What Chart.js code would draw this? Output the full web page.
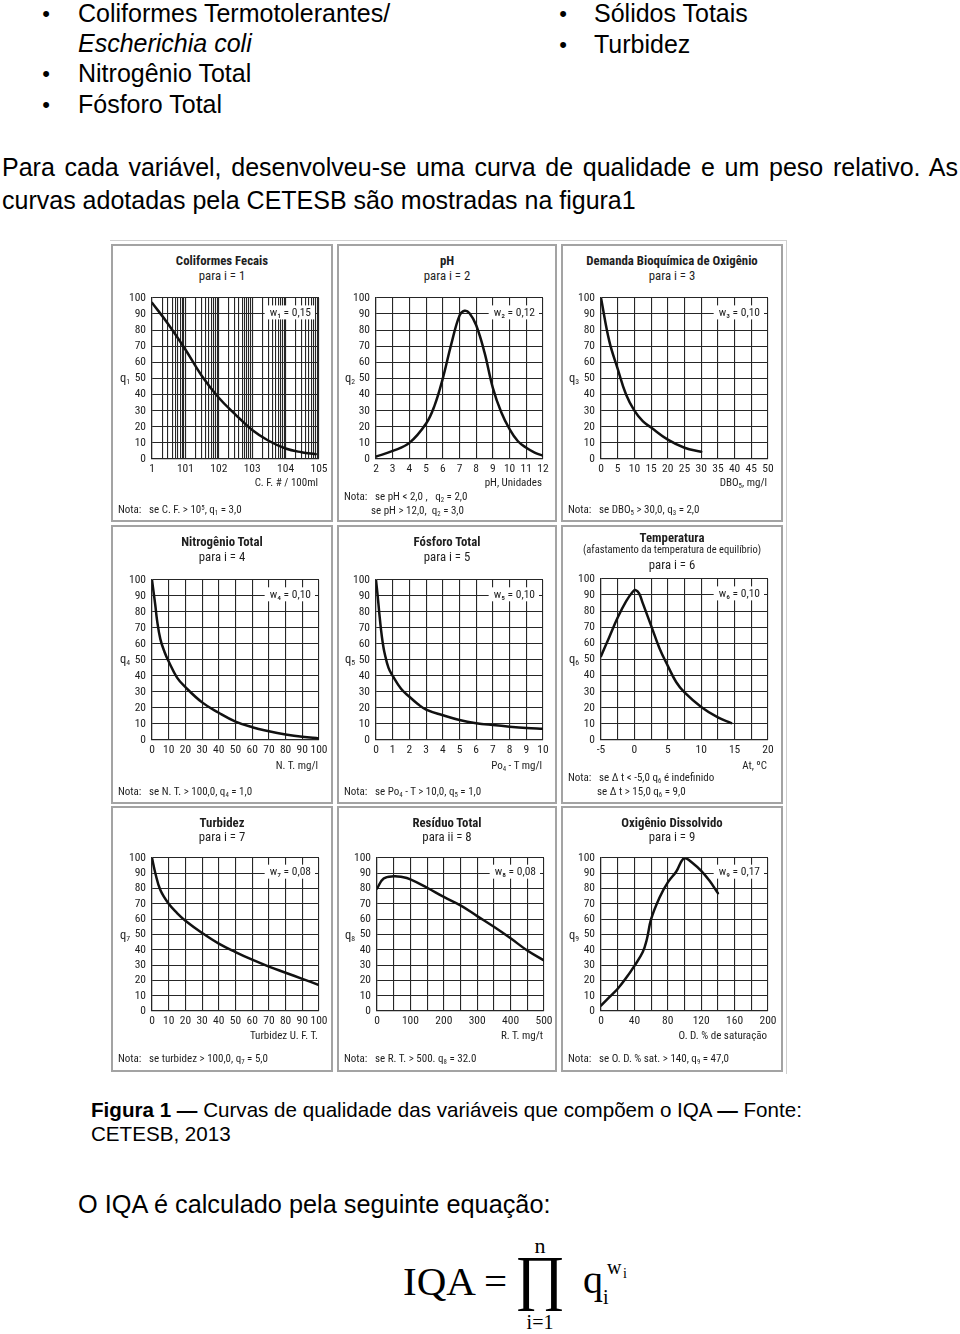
<!DOCTYPE html>
<html><head><meta charset="utf-8">
<script src="https://cdn.jsdelivr.net/npm/chart.js@4.4.0/dist/chart.umd.min.js"></script>
<style>
html,body{margin:0;padding:0;background:#fff;}
#page{position:relative;width:960px;height:1334px;overflow:hidden;font-family:'Liberation Sans',Arial,sans-serif;color:#000;}
.t{position:absolute;white-space:nowrap;}
.panel{position:absolute;box-sizing:border-box;border:2px solid #a3a3a3;background:#fff;}
.pf{font-family:'Liberation Sans Narrow','Roboto Condensed','Arial Narrow','Noto Sans',sans-serif;color:#1e1e1e;}
.t sub{font-size:0.62em;vertical-align:-0.25em;line-height:0;}
.t sup{font-size:0.62em;vertical-align:0.45em;line-height:0;}
.eq{font-family:'Liberation Serif','Times New Roman',serif;}
.just{text-align:justify;text-align-last:justify;white-space:normal;}
</style></head><body><div id="page"></div>
<script>
// ---------- data ----------
const coliformX = [1, 3, 10, 30, 100, 300, 1000, 3000, 10000, 30000, 80000];
const coliformQ = [97, 84, 68, 52, 38, 28, 18, 11.5, 6.5, 4.2, 3];
const coliformTickValues = [1, 10, 100, 1000, 10000, 100000];
const coliformTickLabels = ['1', '101', '102', '103', '104', '105'];

const phX = [2, 3, 4, 5, 5.5, 6, 6.5, 7, 7.3, 7.6, 8, 8.5, 9, 9.5, 10, 10.5, 11, 11.5, 12];
const phQ = [1.5, 5, 10, 22, 33, 50, 71, 89, 92, 90.5, 83, 66, 44, 29, 18.5, 11, 7, 4, 2];
const phTickLabels = ['2','3','4','5','6','7','8','9','10','11','12'];

const dboX = [0, 2.5, 5, 7.5, 10, 12.5, 15, 20, 25, 30];
const dboQ = [100, 73, 56, 40, 30, 23.5, 19.5, 12, 7, 4.5];
const dboTickLabels = ['0','5','10','15','20','25','30','35','40','45','50'];

const ntX = [0, 1, 2, 3, 5, 7.5, 10, 15, 20, 30, 40, 50, 60, 70, 80, 90, 100];
const ntQ = [100, 92, 84, 75, 63, 55, 49, 39, 33, 23.5, 17, 11.5, 8, 5.5, 3.5, 2, 1];
const ntTickLabels = ['0','10','20','30','40','50','60','70','80','90','100'];

const ptX = [0, 0.1, 0.2, 0.3, 0.4, 0.5, 0.75, 1, 1.5, 2, 2.5, 3, 4, 5, 6, 7, 8, 9, 10];
const ptQ = [100, 90, 79, 69, 61, 55, 45, 40, 32, 27, 22.5, 19, 15.5, 12.5, 10.5, 9.3, 8.3, 7.5, 7];
const ptTickLabels = ['0','1','2','3','4','5','6','7','8','9','10'];

const tempX = [-5, -3.75, -2.5, -1.25, -0.25, 0.2, 0.7, 1.25, 2.5, 3.75, 5, 6.25, 7.5, 10, 12.5, 14.5];
const tempQ = [52, 64, 76, 86, 92, 93, 91, 85, 71, 57, 46, 36, 29.5, 20.5, 14, 10.5];
const tempTickLabels = ['-5','0','5','10','15','20'];

const turbX = [0, 2, 5, 10, 15, 20, 30, 40, 50, 60, 70, 80, 90, 100];
const turbQ = [100, 90, 79, 70, 64, 59, 51, 44, 38.5, 33.5, 29, 25, 21, 17];
const turbTickLabels = ['0','10','20','30','40','50','60','70','80','90','100'];

const rtX = [0, 20, 50, 75, 100, 150, 200, 250, 300, 350, 400, 450, 500];
const rtQ = [80, 86.5, 88, 87.5, 86, 80.5, 74.5, 69, 62, 55, 47.5, 39.5, 33];
const rtTickLabels = ['0','100','200','300','400','500'];

const odX = [0, 10, 20, 30, 40, 50, 55, 60, 70, 80, 90, 100, 110, 120, 130, 140];
const odQ = [3.5, 9, 14.5, 21.5, 29.5, 38.5, 47, 60, 74, 84, 91, 100, 96.5, 91.5, 85, 77];
const odTickLabels = ['0','40','80','120','160','200'];

const qTickLabels = ['0','10','20','30','40','50','60','70','80','90','100'];

// ---------- helpers ----------
const FONT_P = "'Liberation Sans Narrow','Roboto Condensed','Arial Narrow','Noto Sans',sans-serif";
const GRID = '#262626';
const page = document.getElementById('page');

function txt(html, x, y, o = {}) {
  const d = document.createElement('div');
  d.className = 't' + (o.cls ? ' ' + o.cls : '');
  d.innerHTML = html;
  const size = o.size || 25;
  const lh = Math.round(size * 1.2);
  d.style.fontSize = size + 'px';
  d.style.lineHeight = lh + 'px';
  d.style.top = (y - lh / 2) + 'px';
  d.style.left = x + 'px';
  if (o.width) d.style.width = o.width + 'px';
  if (o.align === 'center') d.style.transform = 'translateX(-50%)';
  if (o.align === 'right') d.style.transform = 'translateX(-100%)';
  if (o.bold) d.style.fontWeight = 'bold';
  if (o.italic) d.style.fontStyle = 'italic';
  page.appendChild(d);
  return d;
}

const wLabelPlugin = {
  id: 'wLabel',
  beforeDatasetsDraw(chart, args, opts) {
    if (!opts || !opts.text) return;
    const { ctx, chartArea: a } = chart;
    const y = chart.scales.y.getPixelForValue(91);
    ctx.save();
    ctx.font = '11.5px ' + FONT_P;
    const tw = ctx.measureText(opts.text).width;
    const right = a.right - 8;
    ctx.fillStyle = '#fff';
    ctx.fillRect(right - tw - 5, y - 7, tw + 9, 14);
    ctx.fillStyle = '#1e1e1e';
    ctx.textAlign = 'right';
    ctx.textBaseline = 'middle';
    ctx.fillText(opts.text, right, y + 0.5);
    ctx.restore();
  }
};

function labelCb(list) {
  return (v) => list.includes(String(v)) ? String(v) : '';
}

function buildChart(p) {
  const W = p.plot.w + 52, H = p.plot.h + 8 + 24;
  const cv = document.createElement('canvas');
  cv.width = W; cv.height = H;
  cv.style.cssText = `position:absolute;left:${p.plot.x - 40}px;top:${p.plot.y - 8}px;width:${W}px;height:${H}px;`;
  page.appendChild(cv);
  const pts = p.xs.map((x, i) => ({ x: x, y: p.qs[i] }));
  const tickFont = { family: FONT_P, size: 11.5 };
  const xs = {
    type: p.xType || 'linear',
    position: 'bottom',
    min: p.xMin, max: p.xMax,
    afterFit(s) { s.height = 24; },
    grid: { color: GRID, lineWidth: 1.1, drawTicks: false },
    border: { color: GRID, width: 1.2 },
    ticks: { color: '#1e1e1e', font: tickFont, padding: 3, autoSkip: false, maxRotation: 0, minRotation: 0,
             maxTicksLimit: 200, callback: p.xCb }
  };
  if (p.xStep) xs.ticks.stepSize = p.xStep;
  if (p.xTicks) xs.afterBuildTicks = (s) => { s.ticks = p.xTicks.map(v => ({ value: v })); };
  new Chart(cv, {
    type: 'line',
    data: { datasets: [{ data: pts, borderColor: '#111', borderWidth: 2.5, pointRadius: 0,
                         tension: 0.4, fill: false, borderCapStyle: 'round', borderJoinStyle: 'round' }] },
    options: {
      responsive: false, animation: false, devicePixelRatio: 1,
      layout: { padding: { top: 8, right: 12, left: 0, bottom: 0 } },
      plugins: { legend: { display: false }, tooltip: { enabled: false }, title: { display: false },
                 wLabel: { text: p.w } },
      scales: {
        x: xs,
        y: {
          type: 'linear', min: 0, max: 100,
          afterFit(s) { s.width = 40; },
          grid: { color: GRID, lineWidth: 1.1, drawTicks: false },
          border: { color: GRID, width: 1.2 },
          ticks: { stepSize: 10, color: '#1e1e1e', font: tickFont, padding: 6, autoSkip: false,
                   callback: labelCb(qTickLabels) }
        }
      }
    },
    plugins: [wLabelPlugin]
  });
}

// ---------- document text ----------
function bullet(x, y) { txt('&#8226;', x, y, { size: 22, align: 'center' }); }
bullet(46, 14); txt('Coliformes Termotolerantes/', 78, 13);
txt('Escherichia coli', 78, 43, { italic: true });
bullet(46, 74); txt('Nitrogênio Total', 78, 73);
bullet(46, 105); txt('Fósforo Total', 78, 104);
bullet(563, 14); txt('Sólidos Totais', 594, 13);
bullet(563, 45); txt('Turbidez', 594, 44);
txt('Para cada variável, desenvolveu-se uma curva de qualidade e um peso relativo. As', 2, 167, { width: 956, cls: 'just' });
txt('curvas adotadas pela CETESB são mostradas na figura1', 2, 200);

// outer figure frame
const fr = document.createElement('div');
fr.style.cssText = 'position:absolute;left:110px;top:240px;width:676px;height:833px;border-top:1px solid #cfcfcf;border-right:1px solid #cfcfcf;';
page.appendChild(fr);

// ---------- panels ----------
const logGrid = [];
for (let k = 0; k < 5; k++) for (let n = 1; n < 10; n++) logGrid.push(n * Math.pow(10, k));
logGrid.push(100000);

const panels = [
  { box: { l: 111, t: 244, w: 222, h: 278 }, plot: { x: 152, y: 293, w: 167, h: 166 },
    titles: [['Coliformes Fecais', 260, true], ['para i = 1', 275]],
    xTitle: ['C. F. # / 100ml', 482],
    notes: [['Nota:&nbsp;&nbsp; se C. F. &gt; 10<sup>5</sup>, q<sub>1</sub> = 3,0', 118, 509]],
    q: ['q<sub>1</sub>', 125, 377], w: 'w₁ = 0,15',
    xs: coliformX, qs: coliformQ, xType: 'logarithmic', xMin: 1, xMax: 100000, xTicks: logGrid,
    xCb: (v) => { const i = coliformTickValues.indexOf(v); return i >= 0 ? coliformTickLabels[i] : ''; } },
  { box: { l: 337, t: 244, w: 220, h: 278 }, plot: { x: 376, y: 293, w: 167, h: 166 },
    titles: [['pH', 260, true], ['para i = 2', 275]],
    xTitle: ['pH, Unidades', 482],
    notes: [['Nota:&nbsp;&nbsp; se pH &lt; 2,0 ,&nbsp;&nbsp; q<sub>2</sub> = 2,0', 344, 496],
            ['se pH &gt; 12,0,&nbsp; q<sub>2</sub> = 3,0', 371, 510]],
    q: ['q<sub>2</sub>', 350, 377], w: 'w₂ = 0,12',
    xs: phX, qs: phQ, xMin: 2, xMax: 12, xStep: 1, xCb: labelCb(phTickLabels) },
  { box: { l: 561, t: 244, w: 222, h: 278 }, plot: { x: 601, y: 293, w: 167, h: 166 },
    titles: [['Demanda Bioquímica de Oxigênio', 260, true], ['para i = 3', 275]],
    xTitle: ['DBO<sub>5</sub>, mg/l', 482],
    notes: [['Nota:&nbsp;&nbsp; se DBO<sub>5</sub> &gt; 30,0, q<sub>3</sub> = 2,0', 568, 509]],
    q: ['q<sub>3</sub>', 574, 377], w: 'w₃ = 0,10',
    xs: dboX, qs: dboQ, xMin: 0, xMax: 50, xStep: 5, xCb: labelCb(dboTickLabels) },
  { box: { l: 111, t: 525, w: 222, h: 279 }, plot: { x: 152, y: 575, w: 167, h: 165 },
    titles: [['Nitrogênio Total', 541, true], ['para i = 4', 556]],
    xTitle: ['N. T. mg/l', 765],
    notes: [['Nota:&nbsp;&nbsp; se N. T. &gt; 100,0, q<sub>4</sub> = 1,0', 118, 791]],
    q: ['q<sub>4</sub>', 125, 658], w: 'w₄ = 0,10',
    xs: ntX, qs: ntQ, xMin: 0, xMax: 100, xStep: 10, xCb: labelCb(ntTickLabels) },
  { box: { l: 337, t: 525, w: 220, h: 279 }, plot: { x: 376, y: 575, w: 167, h: 165 },
    titles: [['Fósforo Total', 541, true], ['para i = 5', 556]],
    xTitle: ['Po<sub>4</sub> - T mg/l', 765],
    notes: [['Nota:&nbsp;&nbsp; se Po<sub>4</sub> - T &gt; 10,0, q<sub>5</sub> = 1,0', 344, 791]],
    q: ['q<sub>5</sub>', 350, 658], w: 'w₅ = 0,10',
    xs: ptX, qs: ptQ, xMin: 0, xMax: 10, xStep: 1, xCb: labelCb(ptTickLabels) },
  { box: { l: 561, t: 525, w: 222, h: 279 }, plot: { x: 601, y: 574, w: 167, h: 166 },
    titles: [['Temperatura', 537, true], ['(afastamento da temperatura de equilíbrio)', 549, false, 10.5], ['para i = 6', 564]],
    xTitle: ['At, ºC', 765],
    notes: [['Nota:&nbsp;&nbsp; se Δ t &lt; -5,0 q<sub>6</sub> é indefinido', 568, 777],
            ['se Δ t &gt; 15,0 q<sub>6</sub> = 9,0', 597, 791]],
    q: ['q<sub>6</sub>', 574, 658], w: 'w₆ = 0,10',
    xs: tempX, qs: tempQ, xMin: -5, xMax: 20, xStep: 2.5, xCb: labelCb(tempTickLabels) },
  { box: { l: 111, t: 806, w: 222, h: 266 }, plot: { x: 152, y: 853, w: 167, h: 158 },
    titles: [['Turbidez', 822, true], ['para i = 7', 836]],
    xTitle: ['Turbidez U. F. T.', 1035],
    notes: [['Nota:&nbsp;&nbsp; se turbidez &gt; 100,0, q<sub>7</sub> = 5,0', 118, 1058]],
    q: ['q<sub>7</sub>', 125, 934], w: 'w₇ = 0,08',
    xs: turbX, qs: turbQ, xMin: 0, xMax: 100, xStep: 10, xCb: labelCb(turbTickLabels) },
  { box: { l: 337, t: 806, w: 220, h: 266 }, plot: { x: 377, y: 853, w: 167, h: 158 },
    titles: [['Resíduo Total', 822, true], ['para ii = 8', 836]],
    xTitle: ['R. T. mg/t', 1035],
    notes: [['Nota:&nbsp;&nbsp; se R. T. &gt; 500. q<sub>8</sub> = 32.0', 344, 1058]],
    q: ['q<sub>8</sub>', 350, 934], w: 'w₈ = 0,08',
    xs: rtX, qs: rtQ, xMin: 0, xMax: 500, xStep: 50, xCb: labelCb(rtTickLabels) },
  { box: { l: 561, t: 806, w: 222, h: 266 }, plot: { x: 601, y: 853, w: 167, h: 158 },
    titles: [['Oxigênio Dissolvido', 822, true], ['para i = 9', 836]],
    xTitle: ['O. D. % de saturação', 1035],
    notes: [['Nota:&nbsp;&nbsp; se O. D. % sat. &gt; 140, q<sub>9</sub> = 47,0', 568, 1058]],
    q: ['q<sub>9</sub>', 574, 934], w: 'w₉ = 0,17',
    xs: odX, qs: odQ, xMin: 0, xMax: 200, xStep: 20, xCb: labelCb(odTickLabels) }
];

panels.forEach(p => {
  const b = document.createElement('div');
  b.className = 'panel';
  b.style.cssText += `left:${p.box.l}px;top:${p.box.t}px;width:${p.box.w}px;height:${p.box.h}px;`;
  page.appendChild(b);
  buildChart(p);
  const cx = p.box.l + p.box.w / 2;
  p.titles.forEach(([s, y, bold, sz]) => txt(s, cx, y, { size: sz || 12.8, bold: !!bold, align: 'center', cls: 'pf' }));
  txt(p.xTitle[0], p.plot.x + p.plot.w - 1, p.xTitle[1], { size: 11, align: 'right', cls: 'pf' });
  p.notes.forEach(([s, x, y]) => txt(s, x, y, { size: 11, cls: 'pf' }));
  txt(p.q[0], p.q[1], p.q[2], { size: 12.5, align: 'center', cls: 'pf' });
});

// ---------- caption & equation ----------
txt('<b>Figura 1</b> <b>—</b> Curvas de qualidade das variáveis que compõem o IQA <b>—</b> Fonte:', 91, 1109, { size: 20.6 });
txt('CETESB, 2013', 91, 1133, { size: 20.6 });
txt('O IQA é calculado pela seguinte equação:', 78, 1204, { size: 25.3 });

txt('IQA', 403, 1281, { size: 41, cls: 'eq' });
txt('=', 484, 1281, { size: 41, cls: 'eq' });
txt('&#8719;', 540, 1277, { size: 61, cls: 'eq', align: 'center' });
txt('n', 540, 1246, { size: 22, cls: 'eq', align: 'center' });
txt('i=1', 540, 1322, { size: 20, cls: 'eq', align: 'center' });
txt('q', 583, 1280, { size: 40, cls: 'eq' });
txt('w', 607, 1267, { size: 20, cls: 'eq' });
txt('i', 623, 1273, { size: 14, cls: 'eq' });
txt('i', 603, 1297, { size: 20, cls: 'eq' });
</script>
</body></html>
